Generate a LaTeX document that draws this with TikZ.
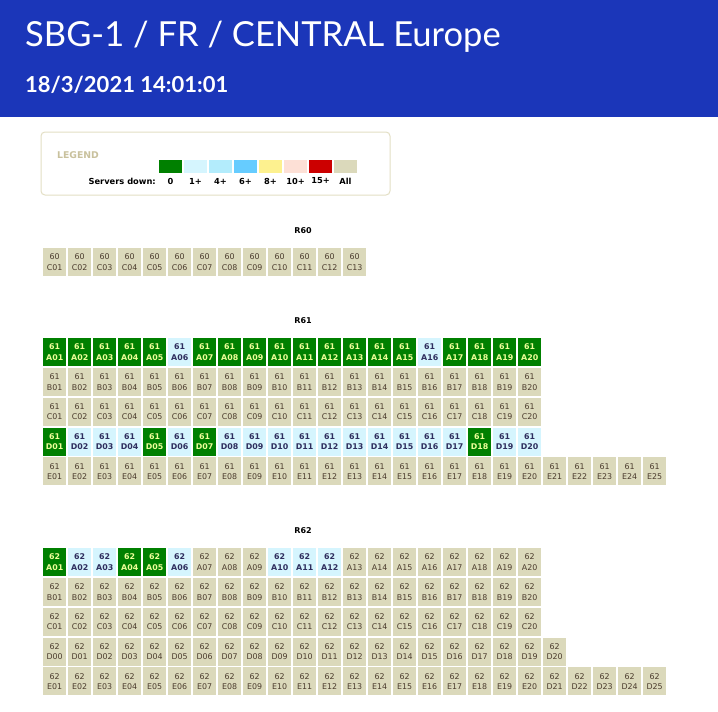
\documentclass[tikz,border=0pt]{standalone}
\usepackage{fontspec}
\setmainfont{DejaVu Sans}
\newfontfamily\titlefont{Lato}
\definecolor{hdrblue}{HTML}{1B36B9}
\definecolor{stgreen}{HTML}{008000}
\definecolor{stone}{HTML}{D5F5FE}
\definecolor{stfour}{HTML}{B3ECFC}
\definecolor{stsix}{HTML}{66CCFF}
\definecolor{steight}{HTML}{FDF18F}
\definecolor{stten}{HTML}{FDE0D6}
\definecolor{stfifteen}{HTML}{CC0000}
\definecolor{stall}{HTML}{DBD9BB}
\definecolor{greentext}{HTML}{EEFF99}
\definecolor{cyantext}{HTML}{2E2E5E}
\definecolor{graytext}{HTML}{4A3A2C}
\definecolor{legendtitle}{HTML}{C9C19D}
\definecolor{legendborder}{HTML}{E3DFC4}
\tikzset{
  cellbase/.style={minimum width=23pt, minimum height=28pt, inner sep=0pt, align=center, anchor=north west,
    font=\fontsize{7.9}{10.5}\selectfont},
  cellg/.style={cellbase, fill=stgreen, text=greentext, font=\fontsize{7.9}{10.5}\selectfont\bfseries},
  cellc/.style={cellbase, fill=stone, text=cyantext, font=\fontsize{7.9}{10.5}\selectfont\bfseries},
  cella/.style={cellbase, fill=stall, text=graytext},
  racklabel/.style={font=\fontsize{8}{9}\selectfont\bfseries, inner sep=0pt},
  swatch/.style={minimum width=23pt, minimum height=12.5pt, inner sep=0pt, anchor=north west},
  swlabel/.style={font=\fontsize{8.3}{9}\selectfont\bfseries, inner sep=0pt}
}
% #1 rack, #2 letter, #3 y top, #4 start number, #5 status list
\newcommand\cellrow[5]{%
  \foreach \s [count=\ci from 0] in {#5} {%
    \pgfmathtruncatemacro\cnum{\ci+#4}%
    \node[cell\s] (r#1#2\cnum) at ({43+25*\ci},#3) {#1\\#2\ifnum\cnum<10 0\fi\cnum};
  }}
% #1 rack, #2 letter, #3 y top, #4 start number, #5 count, #6 column offset
\newcommand\grayrow[6]{%
  \foreach \ci in {1,...,#5} {%
    \pgfmathtruncatemacro\cnum{\ci-1+#4}%
    \pgfmathsetmacro\cx{43+25*(\ci-1+#6)}%
    \node[cella] (r#1#2\cnum) at (\cx,#3) {#1\\#2\ifnum\cnum<10 0\fi\cnum};
  }}
\begin{document}
\begin{tikzpicture}[x=1pt,y=-1pt]
\useasboundingbox (0,0) rectangle (718,712);
\fill[white] (0,0) rectangle (718,712);
% header
\fill[hdrblue] (0,0) rectangle (718,117);
\node[anchor=base west, inner sep=0pt, text=white, font=\titlefont\fontsize{34.5}{40}\selectfont] (title) at (25,46) {SBG-1 / FR / CENTRAL Europe};
\node[anchor=base west, inner sep=0pt, text=white, font=\titlefont\bfseries\fontsize{22}{26}\selectfont] (date) at (25,92) {18/3/2021 14:01:01};
% legend
\draw[legendborder, line width=1pt, rounded corners=4pt] (41,132) rectangle (390,195);
\node[anchor=west, inner sep=0pt, text=legendtitle, font=\fontsize{9.3}{10}\selectfont\bfseries] (legend) at (57,155) {LEGEND};
\node[anchor=east, swlabel] (srvdown) at (156,181) {Servers down:};
\foreach \c/\t [count=\k from 0] in {stgreen/0, stone/1+, stfour/4+, stsix/6+, steight/8+, stten/10+, stfifteen/15+, stall/All} {
  \node[swatch, fill=\c] (sw\k) at ({159+25*\k},160) {};
  \node[swlabel] (swl\k) at ({170.5+25*\k},181) {\t};
}
% R60
\node[racklabel] (R60) at (303,231) {R60};
\grayrow{60}{C}{248}{1}{13}{0}
% R61
\node[racklabel] (R61) at (303,321) {R61};
\cellrow{61}{A}{338}{1}{g,g,g,g,g,c,g,g,g,g,g,g,g,g,g,c,g,g,g,g}
\grayrow{61}{B}{367.8}{1}{20}{0}
\grayrow{61}{C}{397.6}{1}{20}{0}
\cellrow{61}{D}{427.4}{1}{g,c,c,c,g,c,g,c,c,c,c,c,c,c,c,c,c,g,c,c}
\grayrow{61}{E}{457.2}{1}{25}{0}
% R62
\node[racklabel] (R62) at (303,531) {R62};
\cellrow{62}{A}{548}{1}{g,c,c,g,g,c,a,a,a,c,c,c,a,a,a,a,a,a,a,a}
\grayrow{62}{B}{577.8}{1}{20}{0}
\grayrow{62}{C}{607.6}{1}{20}{0}
\grayrow{62}{D}{637.4}{0}{21}{0}
\grayrow{62}{E}{667.2}{1}{20}{0}
\grayrow{62}{D}{667.2}{21}{5}{20}
\end{tikzpicture}
\end{document}
